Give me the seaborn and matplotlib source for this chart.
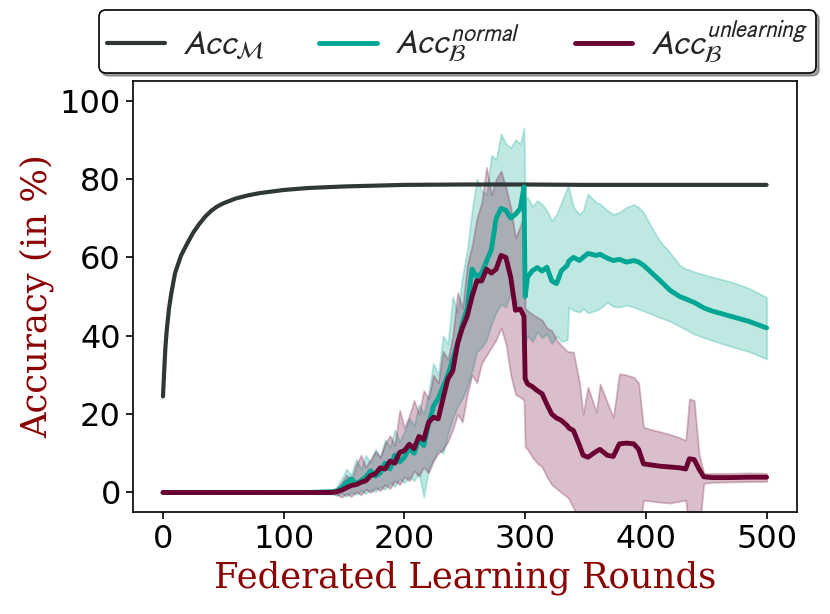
import numpy as np
import pandas as pd
import matplotlib
matplotlib.use("Agg")
import matplotlib.pyplot as plt
import seaborn as sns

# ---- main task accuracy (black curve)
acc_rounds = [0, 1, 2, 3, 5, 7, 10, 15, 20, 25, 30, 35, 40, 45, 50, 60, 70, 80, 100,
              120, 150, 200, 250, 300, 350, 400, 450, 500]
acc_model = [24.5, 31, 37, 41, 47, 51, 56, 60.5, 63.5, 66.3, 68.5, 70.4, 71.9, 73.0,
             73.8, 75, 75.8, 76.4, 77.2, 77.7, 78.1, 78.5, 78.6, 78.6, 78.5, 78.5, 78.5, 78.5]

# ---- backdoor accuracy, shared round grid
fl_rounds = [0, 20, 40, 60, 80, 100, 120, 140,
             144, 148, 152, 156, 160, 164, 168, 172, 176,
             180, 184, 188, 192, 196, 200, 204, 208, 212,
             216, 220, 224, 228, 232, 236, 240, 244, 248,
             252, 256, 260, 264, 268, 272, 276, 280, 284,
             288, 292, 296, 299,
             300, 302, 306, 310, 314, 318, 322, 326, 330,
             335, 336, 340, 345, 348, 352, 359, 362,
             368, 373, 378, 384, 390, 394, 398, 405, 412,
             420, 428, 433, 436, 440, 444, 448, 455, 470, 485, 500]

# normal backdoor: mean / low / high
normal_mean = [0, 0, 0, 0, 0, 0, 0, 0.2,
               0.3, 1.2, 2.5, 3.5, 2.2, 3.0, 4.0, 5.5, 4.2,
               5.0, 7.5, 6.0, 9.5, 7.8, 9.0, 11.5, 10.0, 13.5,
               12.0, 17.5, 22.0, 24.0, 27.0, 30.0, 34.0, 38.0, 43.0,
               47.0, 57.0, 55.0, 56.0, 59.0, 62.0, 70.0, 72.5, 72.0,
               70.0, 71.0, 72.5, 78.0,
               50.0, 55.0, 56.6, 57.4, 56.5, 57.5, 54.0, 53.3, 56.6,
               58.0, 59.0, 60.0, 59.2, 60.0, 61.0, 60.5, 60.8,
               59.8, 59.2, 59.5, 58.8, 59.2, 58.8, 58.0, 56.0, 54.0,
               51.6, 50.0, 49.4, 49.0, 48.5, 47.8, 47.1, 46.3, 45.0, 43.7, 42.0]
normal_high = [0.4, 0.3, 0.5, 0.3, 0.4, 0.3, 0.5, 0.6,
               1.5, 3.5, 6.0, 4.5, 8.5, 6.0, 9.5, 7.5, 11.0,
               9.0, 13.5, 11.5, 16.0, 13.0, 15.5, 19.0, 17.0, 22.5,
               20.0, 25.5, 33.0, 30.0, 40.0, 38.0, 50.0, 46.0, 55.0,
               62.0, 72.0, 80.0, 77.0, 76.0, 86.0, 85.0, 91.5, 89.0,
               88.0, 90.0, 89.0, 93.0,
               75.0, 75.3, 73.0, 74.5, 73.6, 71.9, 69.4, 71.0, 74.0,
               77.9, 77.9, 72.8, 71.0, 72.0, 76.2, 74.0, 73.6,
               72.0, 71.0, 71.5, 72.8, 73.5, 72.8, 71.5, 67.5, 64.0,
               61.2, 58.0, 57.0, 56.8, 56.3, 56.0, 55.6, 55.0, 53.8, 52.2, 49.8]
normal_low = [-0.3, -0.2, -0.3, -0.2, -0.3, -0.2, -0.3, -0.4,
              -0.8, -0.2, -1.0, 0.0, -0.5, 0.5, -0.3, 0.8, 0.2,
              1.5, 0.8, 2.5, 1.5, 3.5, 2.5, 4.0, 3.0, 5.0,
              -1.2, 6.0, 8.5, 11.0, 10.0, 15.0, 19.0, 22.0, 24.0,
              27.0, 31.0, 36.0, 37.0, 39.0, 43.0, 46.0, 48.0, 47.3,
              51.0, 50.0, 46.0, 44.0,
              38.0, 40.0, 38.5, 41.0, 39.5, 40.5, 38.0, 40.0, 38.5,
              39.0, 47.3, 46.5, 46.0, 47.0, 45.8, 46.5, 47.0,
              48.5, 47.5, 47.3, 47.8, 47.3, 46.8, 46.3, 45.5, 44.6,
              43.7, 42.4, 41.6, 41.1, 40.4, 40.0, 39.5, 38.8, 37.3, 36.0, 34.1]

# unlearning backdoor: mean / low / high
unlearn_mean = [0, 0, 0, 0, 0, 0, 0, 0,
                0.2, 0.6, 1.2, 1.8, 2.0, 2.6, 3.0, 4.3, 4.8,
                6.3, 6.0, 8.0, 7.5, 10.2, 10.7, 12.3, 11.2, 14.3,
                13.5, 17.9, 19.2, 18.8, 24.0, 29.0, 31.0, 38.0, 42.0,
                45.0, 50.0, 54.0, 54.0, 57.0, 56.0, 57.0, 60.5, 60.0,
                55.0, 46.5, 46.8, 45.0,
                29.0, 27.7, 27.0, 26.0, 25.2, 22.5, 20.0, 19.0, 18.4,
                17.0, 16.5, 15.8, 12.0, 9.5, 9.0, 10.5, 11.0,
                9.5, 9.2, 12.4, 12.6, 12.4, 11.0, 7.3, 7.0, 6.7,
                6.5, 6.3, 6.0, 8.6, 8.4, 6.0, 4.0, 3.8, 3.8, 3.9, 3.9]
unlearn_high = [0.2, 0.2, 0.3, 0.2, 0.2, 0.3, 0.2, 0.4,
                1.0, 2.5, 4.5, 3.0, 7.0, 9.5, 6.5, 8.5, 10.5,
                9.0, 12.5, 14.5, 12.0, 21.0, 16.5, 19.5, 23.5, 20.0,
                26.0, 24.0, 30.0, 28.0, 36.0, 34.0, 40.0, 51.0, 47.0,
                58.0, 63.0, 70.0, 74.0, 83.0, 76.0, 80.0, 82.0, 78.0,
                72.8, 65.0, 68.0, 71.0,
                47.0, 46.4, 45.5, 44.7, 44.0, 42.0, 41.3, 39.0, 37.5,
                36.0, 36.0, 35.8, 28.0, 20.0, 26.9, 20.5, 27.7,
                23.0, 19.2, 30.3, 30.0, 29.4, 28.0, 16.7, 16.0, 15.5,
                14.8, 14.0, 13.3, 23.9, 23.5, 9.9, 4.8, 4.9, 4.9, 5.0, 4.9]
unlearn_low = [-0.2, -0.2, -0.2, -0.2, -0.2, -0.2, -0.2, -0.2,
               -0.5, -1.2, -0.3, -1.0, 0.2, -0.6, 0.8, 0.0, 1.2,
               0.5, 2.0, 1.0, 3.0, 2.0, 4.0, 3.0, 5.5, 4.2,
               6.5, 5.0, 8.0, 10.0, 11.0, 13.0, 16.0, 20.0, 18.0,
               25.0, 30.0, 28.0, 33.0, 35.0, 37.0, 39.0, 42.0, 38.0,
               30.0, 25.0, 24.3, 23.5,
               11.6, 11.0, 9.0, 7.5, 6.5, 4.0, 2.0, 1.0, 0.0,
               -1.2, -1.5, -4.0, -7.0, -10, -10, -10, -10,
               -10, -10, -10, -10, -10, -10, -2.0, -2.2, -2.5,
               -2.7, -2.2, -2.0, -10, -10, -10, 2.3, 2.6, 2.7, 2.8, 2.8]

c_model = "#2f3836"
c_normal = "#00a693"
c_unlearn = "#6b0032"
c_label = "#8b0000"

sns.set_style("ticks")
plt.rcParams['mathtext.fontset'] = 'stixsans'

fig = plt.figure(figsize=(8.3, 6.14), dpi=100)
ax = fig.add_axes([0.160, 0.166, 0.800, 0.702])

sns.lineplot(x=acc_rounds, y=acc_model, color=c_model, linewidth=3, ax=ax,
             label=r"$Acc_{\mathcal{M}}$")

ax.fill_between(fl_rounds, normal_low, normal_high, color=c_normal, alpha=0.25, linewidth=1.3)
ax.fill_between(fl_rounds, unlearn_low, unlearn_high, color=c_unlearn, alpha=0.25, linewidth=1.3)

sns.lineplot(x=fl_rounds, y=normal_mean, color=c_normal, linewidth=3.5, ax=ax,
             label=r"$Acc_{\mathcal{B}}^{normal}$")
sns.lineplot(x=fl_rounds, y=unlearn_mean, color=c_unlearn, linewidth=3.5, ax=ax,
             label=r"$Acc_{\mathcal{B}}^{unlearning}$")

ax.set_xlim(-25, 525)
ax.set_ylim(-5, 105)
ax.set_xticks([0, 100, 200, 300, 400, 500])
ax.set_yticks([0, 20, 40, 60, 80, 100])
ax.tick_params(axis='both', labelsize=23, length=5, width=1.2, colors='black')
for s in ax.spines.values():
    s.set_visible(True)
    s.set_color('black')
    s.set_linewidth(1.2)

ax.set_xlabel("Federated Learning Rounds", family='DejaVu Serif', color=c_label, fontsize=25.5)
ax.set_ylabel("Accuracy (in %)", family='DejaVu Serif', color=c_label, fontsize=25.5)

leg = ax.legend(loc='lower center', bbox_to_anchor=(0.489, 0.995), ncol=3,
                fontsize=24.5, frameon=True, fancybox=True, shadow=True,
                handlelength=1.7, columnspacing=1.6, borderaxespad=0.3,
                handletextpad=0.5, borderpad=0.25)
leg.get_frame().set_edgecolor('black')
leg.get_frame().set_linewidth(1.2)
leg.get_frame().set_alpha(1)

fig.savefig("out.png", dpi=100)
